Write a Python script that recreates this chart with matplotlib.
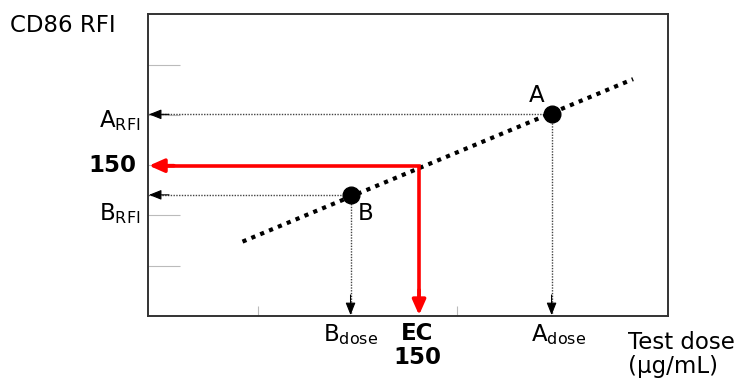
import matplotlib.pyplot as plt

# schematic values (arbitrary units)
fit_x = [1.89, 9.70]
fit_y = [1.48, 4.71]
pt_names = ['A', 'B']
pt_x = [8.07, 4.05]
pt_y = [4.01, 2.41]
ec_x = 5.42
ec_y = 2.99
ytick_pos = [1, 2, 3, 4, 5]
xtick_pos = [2.2, 6.18]

fig = plt.figure(figsize=(7.43, 3.85), dpi=100)
ax = fig.add_axes([0.1992, 0.179, 0.700, 0.784])
ax.set_xlim(0, 10.4)
ax.set_ylim(0, 6.0)
for s in ax.spines.values():
    s.set_color('#333333')
    s.set_linewidth(1.4)

ax.set_yticks(ytick_pos)
ax.set_xticks(xtick_pos)
ax.set_yticklabels([])
ax.set_xticklabels([])
ax.tick_params(axis='y', direction='in', length=23, color='#bbbbbb', width=0.8)
ax.tick_params(axis='x', direction='in', length=7, color='#bbbbbb', width=0.8)

def head(xy, dx, dy, color='k', hl=0.75, hw=0.3, lw=0.8):
    ax.annotate('', xy=xy, xytext=(xy[0] + dx, xy[1] + dy),
                arrowprops=dict(arrowstyle='-|>,head_length=%g,head_width=%g' % (hl, hw),
                                color=color, lw=lw, shrinkA=0, shrinkB=0),
                annotation_clip=False)

# dotted guides with arrowheads
for x, y in zip(pt_x, pt_y):
    ax.plot([0, x], [y, y], color='#444444', lw=1.0, ls=(0, (1, 1)), zorder=2)
    ax.plot([x, x], [0, y], color='#444444', lw=1.0, ls=(0, (1, 1)), zorder=2)
    head((0.02, y), 0.4, 0)
    head((x, 0.02), 0, 0.4)

# fitted line
ax.plot(fit_x, fit_y, color='k', lw=3, ls=(0, (1, 1.3)), zorder=3)
ax.plot(pt_x, pt_y, 'o', color='k', ms=12, zorder=4)

# EC150 red arrows
ax.plot([0.3, ec_x, ec_x], [ec_y, ec_y, 0.25], color='#ff0000', lw=2.6, zorder=3,
        solid_joinstyle='miter')
head((0.02, ec_y), 0.5, 0, color='#ff0000', hl=0.9, hw=0.4, lw=2.6)
head((ec_x, 0.02), 0, 0.5, color='#ff0000', hl=0.9, hw=0.4, lw=2.6)

fs = 16.5
# point labels
ax.text(pt_x[0] - 0.3, pt_y[0] + 0.15, pt_names[0], fontsize=fs, ha='center', va='bottom')
ax.text(pt_x[1] + 0.3, pt_y[1] - 0.15, pt_names[1], fontsize=fs, ha='center', va='top')

tr = ax.get_yaxis_transform()
ax.text(-0.015, pt_y[0] - 0.12, r'A$_{\mathrm{RFI}}$', transform=tr, fontsize=fs, ha='right', va='center')
ax.text(-0.022, ec_y, '150', transform=tr, fontsize=fs, fontweight='bold', ha='right', va='center')
ax.text(-0.015, pt_y[1] - 0.38, r'B$_{\mathrm{RFI}}$', transform=tr, fontsize=fs, ha='right', va='center')

tx = ax.get_xaxis_transform()
ax.text(pt_x[1], -0.02, r'B$_{\mathrm{dose}}$', transform=tx, fontsize=fs, ha='center', va='top')
ax.text(pt_x[0] + 0.15, -0.02, r'A$_{\mathrm{dose}}$', transform=tx, fontsize=fs, ha='center', va='top')
ax.text(ec_x - 0.04, -0.02, 'EC\n150', transform=tx, fontsize=fs, fontweight='bold',
        ha='center', va='top', linespacing=1.05)

fig.text(0.845, 0.08, 'Test dose\n(\u03bcg/mL)', fontsize=fs, ha='left', va='center', linespacing=1.05)
fig.text(0.013, 0.935, 'CD86 RFI', fontsize=fs, ha='left', va='center')

fig.savefig('out.png', dpi=100)
